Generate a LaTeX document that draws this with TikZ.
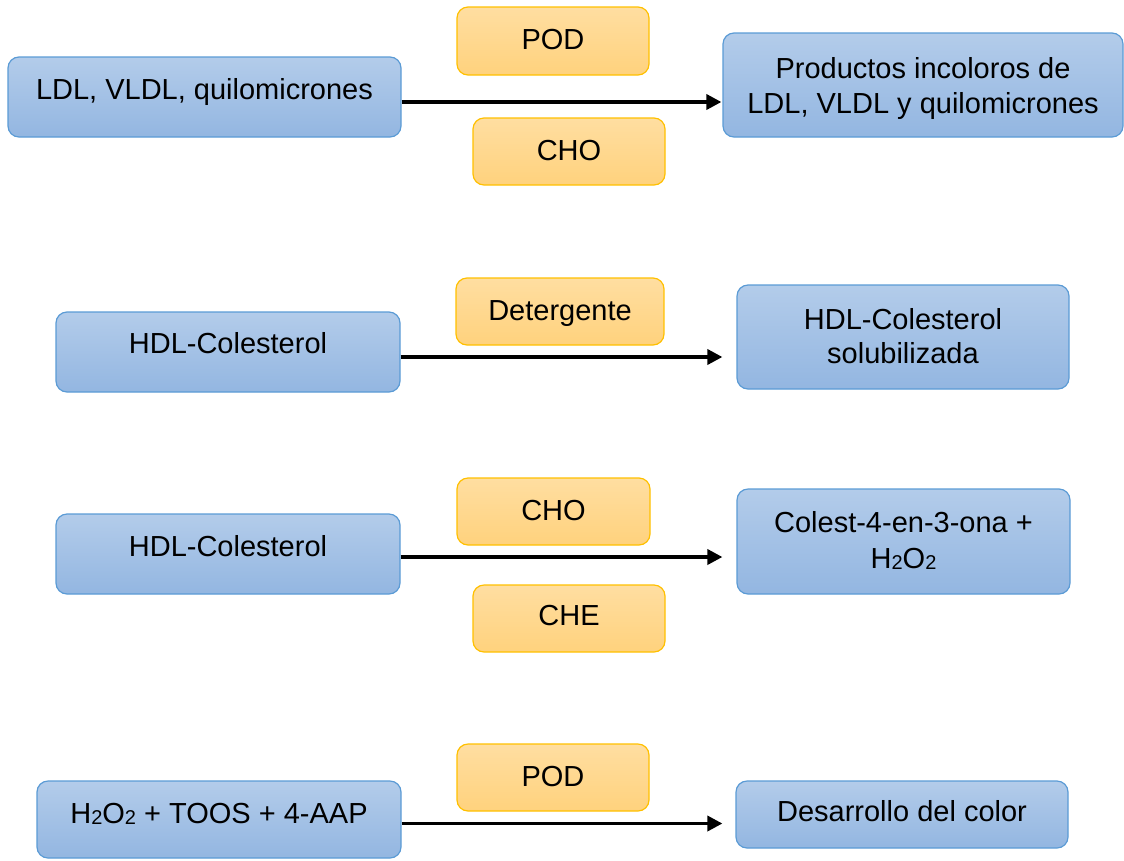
\documentclass[tikz,border=0pt]{standalone}
\usepackage{fontspec}
\setmainfont{Liberation Sans}
\usetikzlibrary{arrows.meta}
\definecolor{bluetop}{HTML}{B3CCEA}
\definecolor{bluebot}{HTML}{93B6E1}
\definecolor{blueline}{HTML}{5B9BD5}
\definecolor{orangetop}{HTML}{FFDEA1}
\definecolor{orangebot}{HTML}{FFD27D}
\definecolor{orangeline}{HTML}{FFC000}
\newcommand\subtwo{\raisebox{-1.5pt}{\fontsize{20}{20}\selectfont 2}}
\begin{document}
\begin{tikzpicture}[x=1pt,y=-1pt,
  bluebox/.style={draw=blueline, line width=1.2pt, rounded corners=11pt, top color=bluetop, bottom color=bluebot, inner sep=0pt},
  orangebox/.style={draw=orangeline, line width=1.2pt, rounded corners=11pt, top color=orangetop, bottom color=orangebot, inner sep=0pt},
  txt/.style={font=\fontsize{29}{36}\selectfont, anchor=base, inner sep=0pt},
  arr/.style={line width=3.5pt, -{Triangle[length=15pt,width=15pt]}}]
\useasboundingbox (0,0) rectangle (1124,860);

% Row 1
\node[bluebox, minimum width=393, minimum height=80] (a1) at (204.5,97) {};
\node[bluebox, minimum width=400, minimum height=104] (b1) at (923,85) {};
\node[orangebox, minimum width=192, minimum height=68] (p1) at (553,41) {};
\node[orangebox, minimum width=192, minimum height=67] (c1) at (569,151.5) {};
\node[txt] (ta1) at (204.5,99) {LDL, VLDL, quilomicrones};
\node[txt, font=\fontsize{29}{35}\selectfont] (tb1) at (923,78) {\begin{tabular}[t]{@{}c@{}}Productos incoloros de\\ LDL, VLDL y quilomicrones\end{tabular}};
\node[txt] (tp1) at (553,49) {POD};
\node[txt] (tc1) at (569,160) {CHO};
\coordinate (s1) at ([yshift=-5pt]a1.east);
\draw[arr, shorten >=1pt] (s1) -- (s1 -| b1.west);

% Row 2
\node[bluebox, minimum width=344, minimum height=80] (a2) at (228,352) {};
\node[orangebox, minimum width=208, minimum height=67] (d2) at (560,311.5) {};
\node[bluebox, minimum width=332, minimum height=104] (b2) at (903,337) {};
\node[txt] (ta2) at (228,353) {HDL-Colesterol};
\node[txt] (td2) at (560,320) {Detergente};
\node[txt, font=\fontsize{29}{34}\selectfont] (tb2) at (903,329) {\begin{tabular}[t]{@{}c@{}}HDL-Colesterol\\ solubilizada\end{tabular}};
\coordinate (s2) at ([yshift=-5pt]a2.east);
\draw[arr, shorten >=14pt] (s2) -- (s2 -| b2.west);

% Row 3
\node[bluebox, minimum width=344, minimum height=80] (a3) at (228,554) {};
\node[orangebox, minimum width=193, minimum height=67] (c3) at (553.5,511.5) {};
\node[orangebox, minimum width=192, minimum height=67] (e3) at (569,618.5) {};
\node[bluebox, minimum width=333, minimum height=105] (b3) at (903.5,541.5) {};
\node[txt] (ta3) at (228,556) {HDL-Colesterol};
\node[txt] (tc3) at (553.5,520) {CHO};
\node[txt] (te3) at (569,625) {CHE};
\node[txt, font=\fontsize{29}{36}\selectfont] (tb3) at (903.5,532) {\begin{tabular}[t]{@{}c@{}}Colest-4-en-3-ona +\\ H\subtwo O\subtwo\end{tabular}};
\coordinate (s3) at ([yshift=-3pt]a3.east);
\draw[arr, shorten >=14pt] (s3) -- (s3 -| b3.west);

% Row 4
\node[bluebox, minimum width=364, minimum height=77] (a4) at (219,819.5) {};
\node[orangebox, minimum width=192, minimum height=67] (p4) at (553,777.5) {};
\node[bluebox, minimum width=332, minimum height=67] (b4) at (902,814.5) {};
\node[txt] (ta4) at (219,823) {H\subtwo O\subtwo{} + TOOS + 4-AAP};
\node[txt] (tp4) at (553,786) {POD};
\node[txt] (tb4) at (902,821) {Desarrollo del color};
\coordinate (s4) at ([yshift=-4pt]a4.east);
\draw[arr, shorten >=13pt] (s4) -- (s4 -| b4.west);
\end{tikzpicture}
\end{document}
